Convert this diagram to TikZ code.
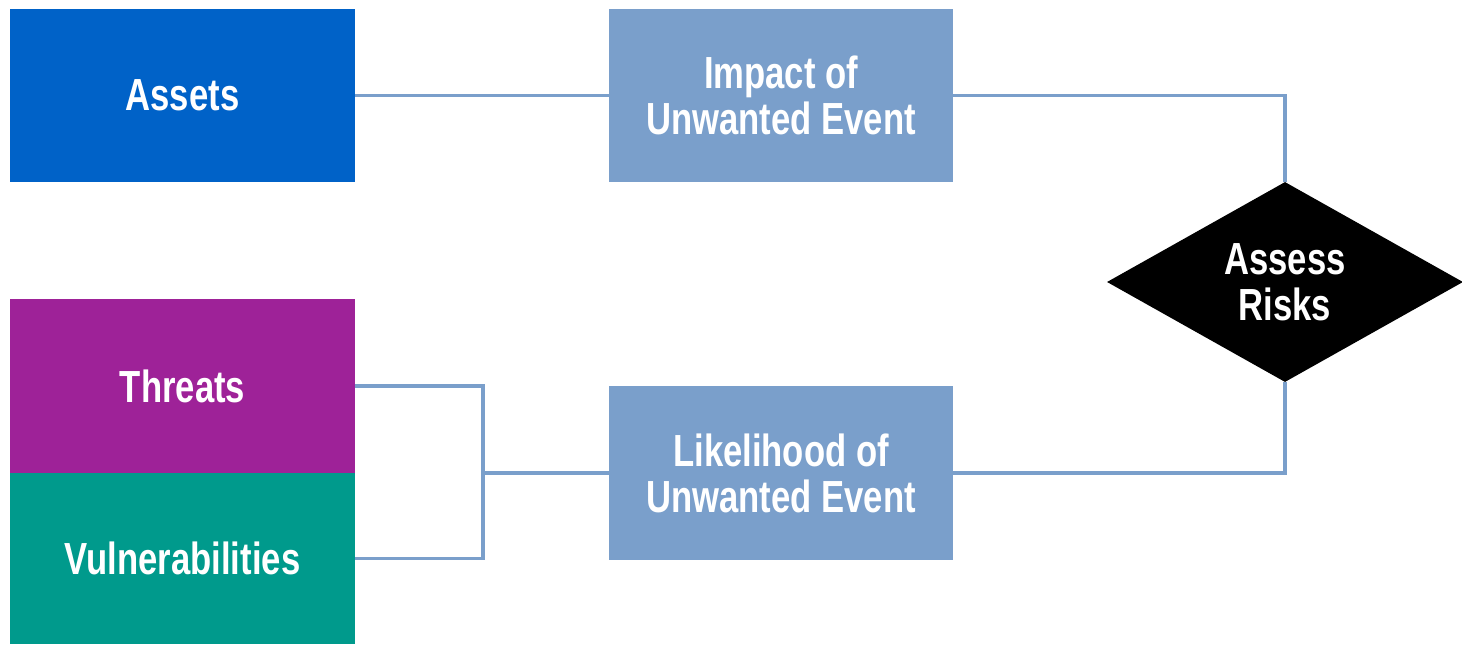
\documentclass[tikz,border=0pt]{standalone}
\usepackage{fontspec}
\newfontfamily\lbl{Liberation Sans}[FakeStretch=0.77]
\usetikzlibrary{shapes.geometric}
\definecolor{assetc}{RGB}{0,98,200}
\definecolor{threatc}{RGB}{158,34,152}
\definecolor{vulnc}{RGB}{0,154,140}
\definecolor{boxc}{RGB}{122,159,203}
\tikzset{
  lab/.style={font=\lbl\bfseries\fontsize{45}{46}\selectfont, text=white, align=center, inner sep=0pt},
  blk/.style={lab, rectangle, minimum width=345pt, minimum height=173pt},
  conn/.style={draw=boxc, line width=3.5pt},
}
\begin{document}
\begin{tikzpicture}[x=1pt,y=-1pt]
\useasboundingbox (0,0) rectangle (1462,645);
\node[blk, fill=assetc] (assets) at (182.5,95.5) {Assets};
\node[blk, fill=boxc, minimum width=344pt] (impact) at (781,95.5) {Impact of\\Unwanted Event};
\node[blk, fill=threatc, minimum height=174pt] (threats) at (182.5,386) {Threats};
\node[blk, fill=vulnc, minimum height=171pt] (vuln) at (182.5,558.5) {Vulnerabilities};
\node[blk, fill=boxc, minimum width=344pt, minimum height=174pt] (likely) at (781,473) {Likelihood of\\Unwanted Event};
\node[lab, diamond, fill=black, minimum width=356pt, minimum height=200pt] (risk) at (1285,282) {Assess\\Risks};
\coordinate (j) at (483,473);
\draw[conn] (assets.east) -- (impact.west);
\draw[conn] (impact.east) -| (risk.north);
\draw[conn] (risk.south) |- (likely.east);
\draw[conn] (threats.east) -| (j) |- (vuln.east);
\draw[conn] (j) -- (likely.west);
\end{tikzpicture}
\end{document}
